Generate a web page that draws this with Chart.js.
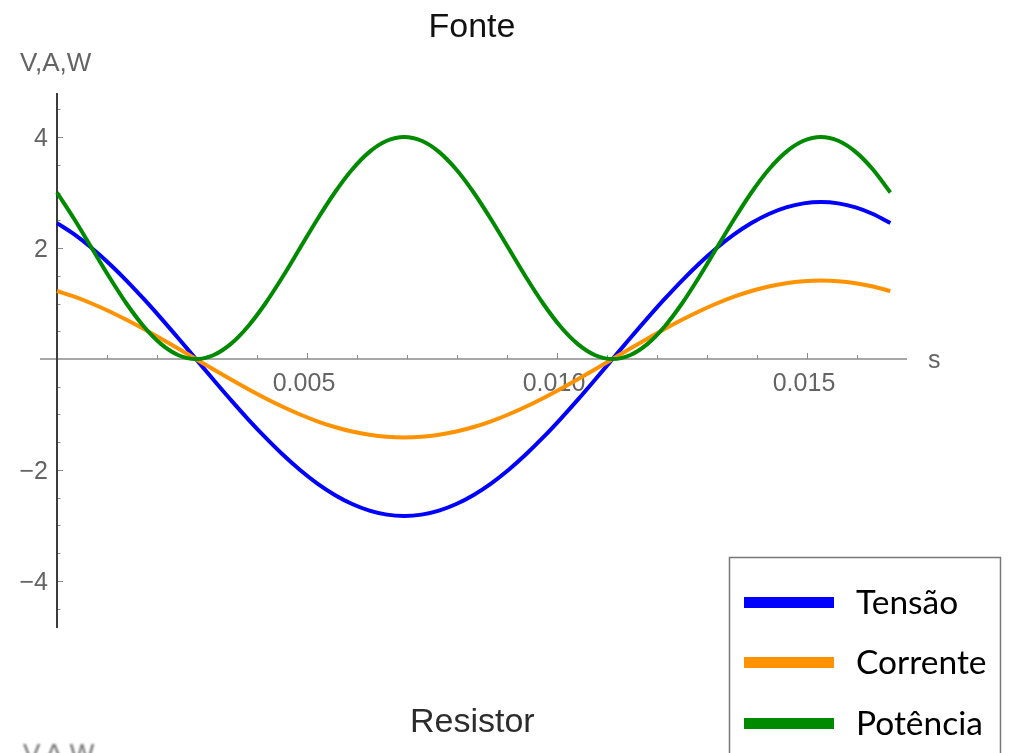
<!DOCTYPE html>
<html lang="pt">
<head>
<meta charset="utf-8">
<title>Fonte</title>
<script src="https://cdn.jsdelivr.net/npm/chart.js@4/dist/chart.umd.min.js"></script>
<style>
  html, body { margin: 0; padding: 0; background: #ffffff; }
  canvas { display: block; }
</style>
</head>
<body>
<canvas id="grafico" width="1010" height="753"></canvas>
<script>
// Tempo (s) ao longo de um ciclo de 60 Hz
const tempo = [
  0, 0.000347, 0.000694, 0.001042, 0.001389, 0.001736, 0.002083, 0.002431,
  0.002778, 0.003125, 0.003472, 0.003819, 0.004167, 0.004514, 0.004861, 0.005208,
  0.005556, 0.005903, 0.00625, 0.006597, 0.006944, 0.007292, 0.007639, 0.007986,
  0.008333, 0.00868, 0.009028, 0.009375, 0.009722, 0.010069, 0.010417, 0.010764,
  0.011111, 0.011458, 0.011806, 0.012153, 0.0125, 0.012847, 0.013194, 0.013542,
  0.013889, 0.014236, 0.014583, 0.014931, 0.015278, 0.015625, 0.015972, 0.016319,
  0.016667
];

// Tensão (V)
const tensao = [
  2.449, 2.244, 2.000, 1.722, 1.414, 1.082, 0.732, 0.369,
  0, -0.369, -0.732, -1.082, -1.414, -1.722, -2.000, -2.244,
  -2.449, -2.613, -2.732, -2.804, -2.828, -2.804, -2.732, -2.613,
  -2.449, -2.244, -2.000, -1.722, -1.414, -1.082, -0.732, -0.369,
  0, 0.369, 0.732, 1.082, 1.414, 1.722, 2.000, 2.244,
  2.449, 2.613, 2.732, 2.804, 2.828, 2.804, 2.732, 2.613,
  2.449
];

// Corrente (A)
const corrente = [
  1.225, 1.122, 1.000, 0.861, 0.707, 0.541, 0.366, 0.185,
  0, -0.185, -0.366, -0.541, -0.707, -0.861, -1.000, -1.122,
  -1.225, -1.307, -1.366, -1.402, -1.414, -1.402, -1.366, -1.307,
  -1.225, -1.122, -1.000, -0.861, -0.707, -0.541, -0.366, -0.185,
  0, 0.185, 0.366, 0.541, 0.707, 0.861, 1.000, 1.122,
  1.225, 1.307, 1.366, 1.402, 1.414, 1.402, 1.366, 1.307,
  1.225
];

// Potência (W)
const potencia = [
  3.000, 2.518, 2.000, 1.482, 1.000, 0.586, 0.268, 0.068,
  0, 0.068, 0.268, 0.586, 1.000, 1.482, 2.000, 2.518,
  3.000, 3.414, 3.732, 3.932, 4.000, 3.932, 3.732, 3.414,
  3.000, 2.518, 2.000, 1.482, 1.000, 0.586, 0.268, 0.068,
  0, 0.068, 0.268, 0.586, 1.000, 1.482, 2.000, 2.518,
  3.000, 3.414, 3.732, 3.932, 4.000, 3.932, 3.732, 3.414,
  3.000
];

// Marcas dos eixos
const xTickValues = [0.005, 0.010, 0.015];
const xTickLabels = ['0.005', '0.010', '0.015'];
const xMinorTicks = [0.001, 0.002, 0.003, 0.004, 0.006, 0.007, 0.008, 0.009,
                     0.011, 0.012, 0.013, 0.014, 0.016];
const yTickValues = [-4, -2, 2, 4];
const yTickLabels = ['\u22124', '\u22122', '2', '4'];
const yMinorTicks = [-4.5, -3.5, -3, -2.5, -1.5, -1, -0.5, 0.5, 1, 1.5, 2.5, 3, 3.5, 4.5];

const seriesNames = ['Tensão', 'Corrente', 'Potência'];
const seriesColors = ['#0000ff', '#ff9200', '#008a00'];

const TICK_FONT = '"Liberation Sans", Arial, sans-serif';

function pontos(ys) {
  return tempo.map((t, i) => ({ x: t, y: ys[i] }));
}

// Eixos no estilo "cruzado" (passando pela origem)
const eixos = {
  id: 'eixos',
  beforeDatasetsDraw(chart) {
    const { ctx, chartArea, scales } = chart;
    const sx = scales.x, sy = scales.y;
    const x0 = sx.getPixelForValue(0);
    const y0 = sy.getPixelForValue(0);
    ctx.save();

    // eixo horizontal
    ctx.strokeStyle = '#8a8a8a';
    ctx.lineWidth = 1.5;
    ctx.beginPath();
    ctx.moveTo(chartArea.left, y0);
    ctx.lineTo(chartArea.right, y0);
    ctx.stroke();

    // marcas do eixo horizontal (para cima)
    ctx.lineWidth = 1;
    ctx.strokeStyle = '#8a8a8a';
    xMinorTicks.forEach(v => {
      const px = Math.round(sx.getPixelForValue(v)) + 0.5;
      ctx.beginPath(); ctx.moveTo(px, y0); ctx.lineTo(px, y0 - 4); ctx.stroke();
    });
    xTickValues.forEach(v => {
      const px = Math.round(sx.getPixelForValue(v)) + 0.5;
      ctx.beginPath(); ctx.moveTo(px, y0); ctx.lineTo(px, y0 - 6); ctx.stroke();
    });

    // marcas do eixo vertical (para a direita)
    yMinorTicks.forEach(v => {
      const py = Math.round(sy.getPixelForValue(v)) + 0.5;
      ctx.beginPath(); ctx.moveTo(x0, py); ctx.lineTo(x0 + 3.5, py); ctx.stroke();
    });
    yTickValues.forEach(v => {
      const py = Math.round(sy.getPixelForValue(v)) + 0.5;
      ctx.beginPath(); ctx.moveTo(x0, py); ctx.lineTo(x0 + 6, py); ctx.stroke();
    });

    // eixo vertical
    ctx.strokeStyle = '#3c3c3c';
    ctx.lineWidth = 2;
    ctx.beginPath();
    ctx.moveTo(x0, chartArea.top);
    ctx.lineTo(x0, chartArea.bottom);
    ctx.stroke();

    // rótulos das marcas
    ctx.fillStyle = '#646464';
    ctx.font = '25px ' + TICK_FONT;
    ctx.textAlign = 'center';
    ctx.textBaseline = 'alphabetic';
    xTickValues.forEach((v, i) => {
      ctx.fillText(xTickLabels[i], sx.getPixelForValue(v) - 3, y0 + 32);
    });
    ctx.textAlign = 'right';
    yTickValues.forEach((v, i) => {
      ctx.fillText(yTickLabels[i], x0 - 9, sy.getPixelForValue(v) + 8.8);
    });

    // nomes dos eixos
    ctx.textAlign = 'left';
    ctx.fillText('s', chartArea.right + 21, y0 + 9);
    ctx.font = '26px ' + TICK_FONT;
    ctx.fillText('V,A,W', 20, 71);
    ctx.restore();
  },

  afterDraw(chart) {
    const { ctx } = chart;
    ctx.save();

    // título
    ctx.fillStyle = '#111111';
    ctx.font = '34px ' + TICK_FONT;
    ctx.textAlign = 'center';
    ctx.textBaseline = 'alphabetic';
    ctx.fillText('Fonte', 472, 37);

    // legenda
    ctx.fillStyle = '#ffffff';
    ctx.fillRect(729, 557, 272, 200);
    ctx.strokeStyle = '#777777';
    ctx.lineWidth = 1.5;
    ctx.strokeRect(729.5, 557.5, 271, 200);
    const rows = [602.5, 662.5, 723.5];
    ctx.font = '33.5px Lato, "Open Sans", sans-serif';
    ctx.textAlign = 'left';
    rows.forEach((cy, i) => {
      ctx.strokeStyle = seriesColors[i];
      ctx.lineWidth = 11;
      ctx.beginPath();
      ctx.moveTo(744, cy);
      ctx.lineTo(834, cy);
      ctx.stroke();
      ctx.fillStyle = '#000000';
      ctx.fillText(seriesNames[i], 856, cy + 11.5);
    });

    // início do gráfico seguinte
    ctx.filter = 'blur(0.5px)';
    ctx.fillStyle = '#2c2c2c';
    ctx.font = '34px ' + TICK_FONT;
    ctx.fillText('Resistor', 410, 732);
    ctx.filter = 'blur(1px)';
    ctx.fillStyle = '#6e6e6e';
    ctx.font = '26px ' + TICK_FONT;
    ctx.fillText('V,A,W', 23, 762);
    ctx.restore();
  }
};

new Chart(document.getElementById('grafico'), {
  type: 'scatter',
  data: {
    datasets: [
      { label: seriesNames[0], data: pontos(tensao), borderColor: seriesColors[0], order: 2 },
      { label: seriesNames[1], data: pontos(corrente), borderColor: seriesColors[1], order: 1 },
      { label: seriesNames[2], data: pontos(potencia), borderColor: seriesColors[2], order: 0 }
    ].map(d => Object.assign(d, {
      showLine: true,
      borderWidth: 4,
      pointRadius: 0,
      pointHoverRadius: 0,
      cubicInterpolationMode: 'monotone',
      fill: false
    }))
  },
  options: {
    responsive: false,
    devicePixelRatio: 1,
    animation: false,
    events: [],
    layout: { padding: { left: 40, right: 103, top: 93, bottom: 125 } },
    plugins: { legend: { display: false }, title: { display: false }, tooltip: { enabled: false } },
    scales: {
      x: { type: 'linear', min: -0.00034, max: 0.017, display: false },
      y: { type: 'linear', min: -4.847, max: 4.793, display: false }
    }
  },
  plugins: [eixos]
});
</script>
</body>
</html>
